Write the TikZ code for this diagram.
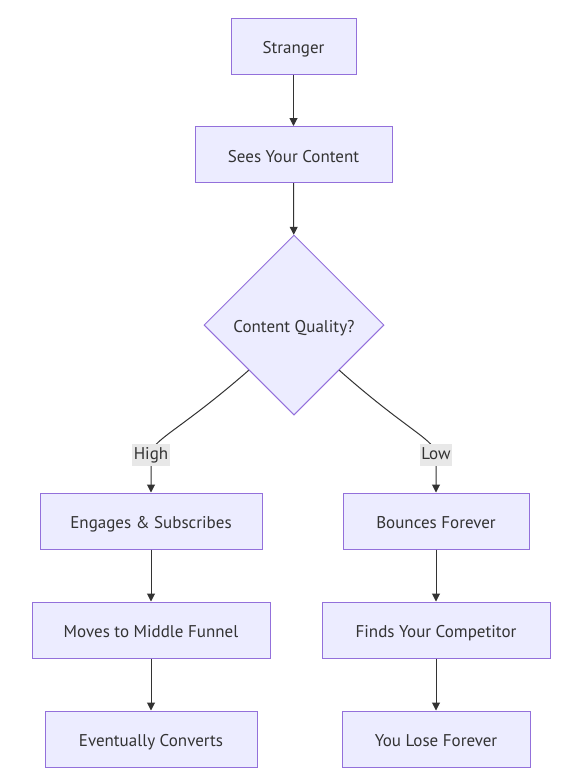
\documentclass[tikz,border=0pt]{standalone}
\usepackage{fontspec}
\setmainfont{PT Sans}
\usetikzlibrary{shapes.geometric,arrows.meta}
\definecolor{boxfill}{HTML}{ECECFF}
\definecolor{boxline}{HTML}{9370DB}
\definecolor{edge}{HTML}{333333}
\definecolor{lblbg}{HTML}{E8E8E8}
\begin{document}
\begin{tikzpicture}[x=1pt,y=-1pt,
  every node/.style={font=\fontsize{17}{20}\selectfont, text=edge},
  box/.style={draw=boxline, fill=boxfill, line width=1pt, minimum height=56pt, inner sep=0pt, text height=17pt, text depth=2pt},
  decision/.style={diamond, draw=boxline, fill=boxfill, line width=1pt, minimum width=180pt, minimum height=180pt, inner sep=0pt, text height=17pt, text depth=2pt},
  lbl/.style={fill=lblbg, inner sep=1.5pt, text height=14pt, text depth=5pt},
  conn/.style={draw=edge, line width=1pt, -{Triangle[length=8pt,width=8pt]}}]
\useasboundingbox[fill=white] (0,0) rectangle (587,777);
\node[box, minimum width=125pt] (s) at (293.5,46) {Stranger};
\node[box, minimum width=197pt] (c) at (293.5,154.5) {Sees Your Content};
\node[decision] (q) at (294,325) {Content Quality?};
\node[box, minimum width=222pt] (e) at (151,521) {Engages \& Subscribes};
\node[box, minimum width=238pt] (m) at (151,630) {Moves to Middle Funnel};
\node[box, minimum width=212pt] (v) at (151,739) {Eventually Converts};
\node[box, minimum width=186pt] (b) at (436,521) {Bounces Forever};
\node[box, minimum width=228pt] (f) at (436,630) {Finds Your Competitor};
\node[box, minimum width=188pt] (y) at (436,739) {You Lose Forever};
\draw[conn] (s) -- (c);
\draw[conn] (c) -- (q);
\draw[conn] (q.south west) .. controls (178,432) and (151,440) .. (151,455) -- (e.north);
\draw[conn] (q.south east) .. controls (409,432) and (436,440) .. (436,455) -- (b.north);
\node[lbl] (hl) at (151,455) {High};
\node[lbl] (ll) at (436,455) {Low};
\draw[conn] (e) -- (m);
\draw[conn] (m) -- (v);
\draw[conn] (b) -- (f);
\draw[conn] (f) -- (y);
\end{tikzpicture}
\end{document}
